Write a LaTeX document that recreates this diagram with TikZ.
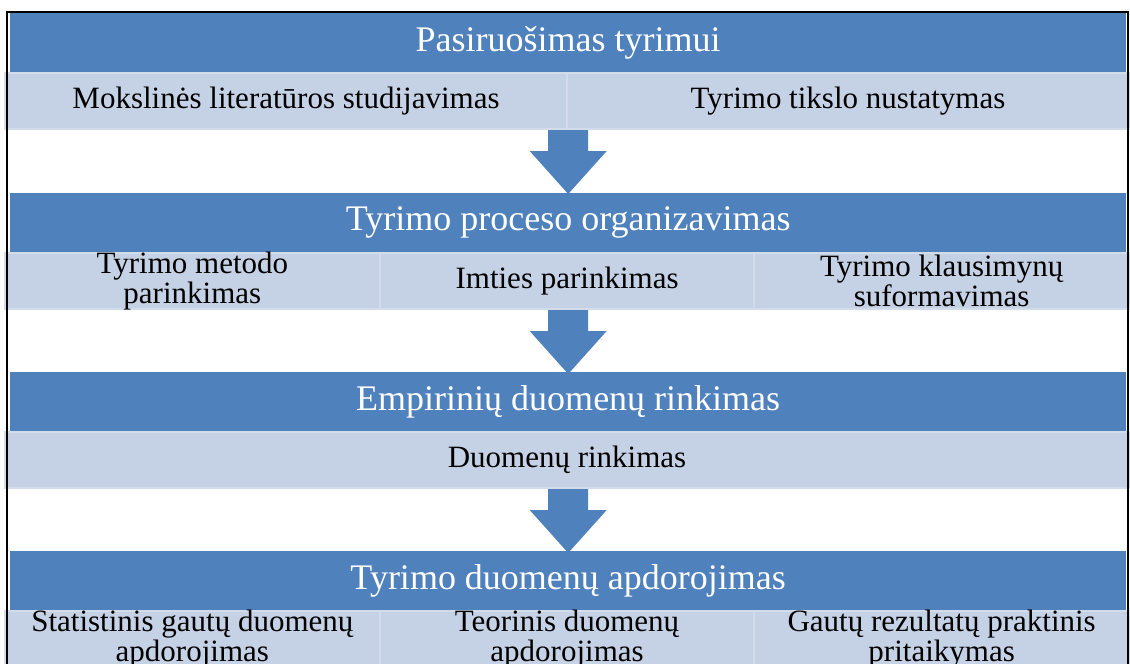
\documentclass[tikz,border=0pt]{standalone}
\usepackage{fontspec}
\setmainfont{Liberation Serif}
\definecolor{barblue}{RGB}{79,129,189}
\definecolor{celllight}{RGB}{197,209,229}
\definecolor{celledge}{RGB}{211,220,235}

\begin{document}
\begin{tikzpicture}[x=1pt,y=-1pt,
  titlebar/.style={fill=barblue, text=white, inner sep=0pt, anchor=north west,
    minimum width=1116pt, minimum height=59pt,
    font=\fontsize{36}{36}\selectfont},
  cellbox/.style={fill=celllight, draw=celledge, line width=2pt, inner sep=0pt,
    anchor=north west, minimum height=56pt},
  halfcell/.style={cellbox, minimum width=562pt},
  thirdcell/.style={cellbox, minimum width=374.7pt},
  widecell/.style={cellbox, minimum width=1124pt},
  celltext/.style={inner sep=0pt, align=center,
    font=\fontsize{31}{30}\selectfont},
  downarrow/.pic={
    \fill[barblue] (-20,0) -- (20,0) -- (20,21) -- (38.5,21) -- (0,64)
      -- (-38.5,21) -- (-20,21) -- cycle;}
]
\useasboundingbox (0,0) rectangle (1130,664);
\clip (0,0) rectangle (1130,664);

% Stage 1
\node[titlebar] (t1) at (10,13) {Pasiruošimas tyrimui};
\node[halfcell] (c11) at (4,72) {};
\node[halfcell] (c12) at (566,72) {};
\node[celltext] (c11t) at (c11.center) {Mokslinės literatūros studijavimas};
\node[celltext] (c12t) at (c12.center) {Tyrimo tikslo nustatymas};

% Stage 2
\node[titlebar] (t2) at (10,193) {Tyrimo proceso organizavimas};
\node[thirdcell] (c21) at (4,252) {};
\node[thirdcell] (c22) at (378.7,252) {};
\node[thirdcell] (c23) at (753.3,252) {};
\node[celltext] (c21t) at (c21.center) {Tyrimo metodo\\parinkimas};
\node[celltext] (c22t) at (c22.center) {Imties parinkimas};
\node[celltext] (c23t) at (c23.center) {Tyrimo klausimynų\\suformavimas};

% Stage 3
\node[titlebar] (t3) at (10,372) {Empirinių duomenų rinkimas};
\node[widecell] (c31) at (4,431) {};
\node[celltext] (c31t) at (c31.center) {Duomenų rinkimas};

% Stage 4
\node[titlebar] (t4) at (10,551) {Tyrimo duomenų apdorojimas};
\node[thirdcell] (c41) at (4,610) {};
\node[thirdcell] (c42) at (378.7,610) {};
\node[thirdcell] (c43) at (753.3,610) {};
\node[celltext] (c41t) at (c41.center) {Statistinis gautų duomenų\\apdorojimas};
\node[celltext] (c42t) at (c42.center) {Teorinis duomenų\\apdorojimas};
\node[celltext] (c43t) at (c43.center) {Gautų rezultatų praktinis\\pritaikymas};

% Arrows between the stages
\coordinate (a1) at (t1.center |- c11.south);
\coordinate (a2) at (t2.center |- c22.south);
\coordinate (a3) at (t3.center |- c31.south);
\pic at (a1) {downarrow};
\pic at (a2) {downarrow};
\pic at (a3) {downarrow};

% Frame
\draw[black, line width=1.5pt] (7,700) -- (7,12) -- (1128,12) -- (1128,700);
\end{tikzpicture}
\end{document}
